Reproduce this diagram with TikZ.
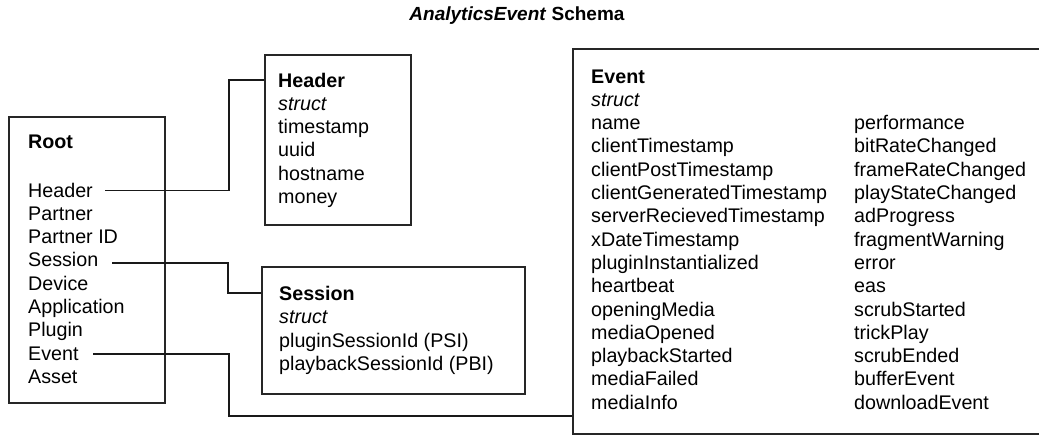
\documentclass[tikz,border=0pt]{standalone}
\usepackage{fontspec}
\setmainfont{Liberation Sans}
\begin{document}
\begin{tikzpicture}[x=1pt,y=-1pt,
  box/.style={draw=black!85,line width=1.8pt,anchor=north west,inner sep=0pt},
  txt/.style={anchor=base west,inner sep=0pt,font=\fontsize{19.7}{23.3}\selectfont},
  link/.style={draw=black!90,line width=1.1pt}]
\useasboundingbox (0,0) rectangle (1039,434);
\clip (0,0) rectangle (1039,434);

% title
\node[anchor=base,inner sep=0pt,font=\fontsize{19}{22}\selectfont\bfseries] (title) at (517,20)
  {\textit{AnalyticsEvent} Schema};

% boxes
\node[box,minimum width=156pt,minimum height=286pt] (root) at (8,116) {};
\node[box,minimum width=146pt,minimum height=170pt] (header) at (264,54) {};
\node[box,minimum width=263pt,minimum height=127pt] (session) at (261,266) {};
\node[box,minimum width=480pt,minimum height=385pt] (event) at (572,48) {};

% contents
\node[txt] (roottitle) at (28,148) {\textbf{Root}};
\node[txt] (roottxt) at (28,197) {\begin{tabular}[t]{@{}l@{}}
  Header\\ Partner\\ Partner ID\\ Session\\ Device\\ Application\\ Plugin\\ Event\\ Asset
\end{tabular}};
\node[txt] (headertxt) at (278,87) {\begin{tabular}[t]{@{}l@{}}
  \textbf{Header}\\ \textit{struct}\\ timestamp\\ uuid\\ hostname\\ money
\end{tabular}};
\node[txt] (sessiontxt) at (279,300.5) {\begin{tabular}[t]{@{}l@{}}
  \textbf{Session}\\ \textit{struct}\\ pluginSessionId (PSI)\\ playbackSessionId (PBI)
\end{tabular}};
\node[txt] (eventtxt) at (591,83) {\begin{tabular}[t]{@{}l@{}}
  \textbf{Event}\\ \textit{struct}\\ name\\ clientTimestamp\\ clientPostTimestamp\\
  clientGeneratedTimestamp\\ serverRecievedTimestamp\\ xDateTimestamp\\
  pluginInstantialized\\ heartbeat\\ openingMedia\\ mediaOpened\\ playbackStarted\\
  mediaFailed\\ mediaInfo
\end{tabular}};
\node[txt] (eventtxt2) at (854,129.6) {\begin{tabular}[t]{@{}l@{}}
  performance\\ bitRateChanged\\ frameRateChanged\\ playStateChanged\\ adProgress\\
  fragmentWarning\\ error\\ eas\\ scrubStarted\\ trickPlay\\ scrubEnded\\
  bufferEvent\\ downloadEvent
\end{tabular}};

% connector ends and bends
\coordinate (fromHeader) at (105,190.7);
\coordinate (fromSession) at (112,263);
\coordinate (fromEvent) at (93,354);
\coordinate (bendHeader) at (229,80);
\coordinate (bendSession) at (228,293);
\coordinate (bendEvent) at (229,416);

\draw[link] (fromHeader) -| (bendHeader) -- (bendHeader -| header.west);
\draw[link] (fromSession) -| (bendSession) -- (bendSession -| session.west);
\draw[link] (fromEvent) -| (bendEvent) -- (bendEvent -| event.west);
\end{tikzpicture}
\end{document}
